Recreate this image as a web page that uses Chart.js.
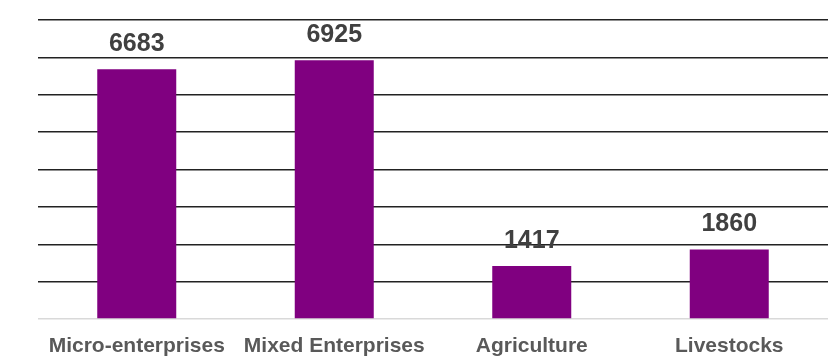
<!DOCTYPE html>
<html>
<head>
<meta charset="utf-8">
<script src="https://cdn.jsdelivr.net/npm/chart.js@4"></script>
<style>
    html, body { margin: 0; padding: 0; background: #fff; overflow: hidden; }
    canvas { display: block; }
</style>
</head>
<body>
<canvas id="barChart" width="837" height="363"></canvas>
<script>
const categories = ['Micro-enterprises', 'Mixed Enterprises', 'Agriculture', 'Livestocks'];
const counts = [6683, 6925, 1417, 1860];
const yMax = 8000;
const yStep = 1000;

// draws the value above each bar
const valueLabels = {
    id: 'valueLabels',
    afterDatasetsDraw(chart) {
        const ctx = chart.ctx;
        const meta = chart.getDatasetMeta(0);
        ctx.save();
        ctx.font = 'bold 25px "Liberation Sans", Arial, sans-serif';
        ctx.fillStyle = '#404040';
        ctx.textAlign = 'center';
        ctx.textBaseline = 'alphabetic';
        meta.data.forEach((bar, i) => {
            ctx.fillText(String(counts[i]), bar.x, bar.y - 18);
        });
        ctx.restore();
    }
};

const ctx = document.getElementById('barChart').getContext('2d');
const barChart = new Chart(ctx, {
    type: 'bar',
    data: {
        labels: categories,
        datasets: [{
            data: counts,
            backgroundColor: '#800080',
            borderWidth: 0,
            barPercentage: 0.4,
            categoryPercentage: 1.0
        }]
    },
    options: {
        responsive: false,
        animation: false,
        layout: {
            padding: { left: 38, right: 9, top: 20, bottom: 4 }
        },
        plugins: {
            legend: { display: false },
            tooltip: { enabled: false }
        },
        scales: {
            x: {
                grid: { display: false, drawTicks: false },
                border: { display: false },
                afterFit: (scale) => { scale.height = 40; },
                ticks: {
                    padding: 15,
                    color: '#595959',
                    font: { family: '"Liberation Sans", Arial, sans-serif', size: 21, weight: 'bold' }
                }
            },
            y: {
                min: 0,
                max: yMax,
                ticks: { display: false, stepSize: yStep },
                border: { display: false },
                grid: {
                    drawTicks: false,
                    lineWidth: 1.5,
                    color: (c) => c.tick && c.tick.value === 0 ? '#d9d9d9' : '#222222'
                }
            }
        }
    },
    plugins: [valueLabels]
});
</script>
</body>
</html>
